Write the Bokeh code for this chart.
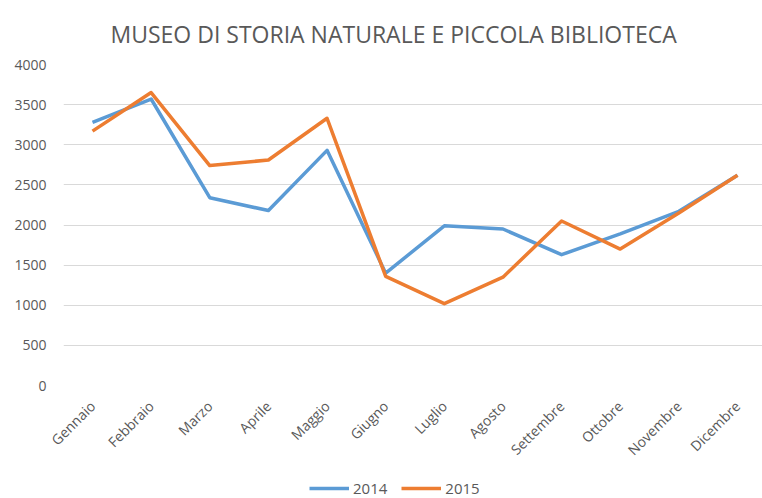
import math
from bokeh.plotting import figure
from bokeh.layouts import column
from bokeh.models import Range1d, FixedTicker, Legend, LegendItem
from bokeh.embed import file_html
from bokeh.resources import INLINE

months = ["Gennaio", "Febbraio", "Marzo", "Aprile", "Maggio", "Giugno",
          "Luglio", "Agosto", "Settembre", "Ottobre", "Novembre", "Dicembre"]
y2014 = [3280, 3570, 2340, 2180, 2930, 1400, 1990, 1950, 1630, 1890, 2170, 2620]
y2015 = [3170, 3650, 2740, 2810, 3330, 1360, 1020, 1350, 2050, 1700, 2150, 2620]
y_ticks = [0, 500, 1000, 1500, 2000, 2500, 3000, 3500, 4000]
series = [("2014", y2014, "#5B9BD5"), ("2015", y2015, "#ED7D31")]

FONT = "Open Sans"
GREY = "#595959"
W = 762

xs = list(range(len(months)))

# x range chosen so that category 0 sits at x=92 and category 11 at x=737
x0 = -29 / 58.64
x1 = 11 + (W - 737) / 58.64

p = figure(width=W, height=470, output_backend="svg", toolbar_location=None,
           x_range=Range1d(x0, x1), y_range=Range1d(0, 4000),
           min_border_left=63, min_border_right=0, min_border_top=64,
           min_border_bottom=85)
p.outline_line_color = None

p.title.text = "MUSEO DI STORIA NATURALE E PICCOLA BIBLIOTECA"
p.title.text_font = FONT
p.title.text_font_size = "23px"
p.title.text_font_style = "normal"
p.title.text_color = GREY
p.title.align = "left"
p.title.offset = 47
p.title.standoff = 30

for name, ys, col in series:
    p.line(xs, ys, line_color=col, line_width=3.5, line_join="round")

p.yaxis.ticker = FixedTicker(ticks=y_ticks)
p.yaxis.axis_line_color = None
p.yaxis.major_tick_line_color = None
p.yaxis.minor_tick_line_color = None
p.yaxis.major_label_text_font = FONT
p.yaxis.major_label_text_font_size = "14px"
p.yaxis.major_label_text_color = GREY
p.yaxis.major_label_standoff = 11

p.xaxis.ticker = FixedTicker(ticks=xs)
p.xaxis.major_label_overrides = {i: m for i, m in enumerate(months)}
p.xaxis.axis_line_color = None
p.xaxis.major_tick_line_color = None
p.xaxis.minor_tick_line_color = None
p.xaxis.major_label_orientation = math.pi / 4
p.xaxis.major_label_text_font = FONT
p.xaxis.major_label_text_font_size = "14px"
p.xaxis.major_label_text_color = GREY
p.xaxis.major_label_standoff = 12

p.xgrid.grid_line_color = None
p.ygrid.grid_line_color = "#d9d9d9"
p.ygrid.grid_line_width = 1

# legend strip below the chart (its lines lie outside the strip's ranges)
lg = figure(width=W, height=28, output_backend="svg", toolbar_location=None,
            x_range=Range1d(100, 101), y_range=Range1d(100000, 100001),
            x_axis_location=None, y_axis_location=None, min_border=0)
lg.outline_line_color = None
lg.grid.grid_line_color = None
items = []
for name, ys, col in series:
    r = lg.line(xs, ys, line_color=col, line_width=3.5)
    items.append(LegendItem(label=name, renderers=[r]))
legend = Legend(items=items, orientation="horizontal", location=(246, 0),
                border_line_color=None, background_fill_alpha=0,
                label_text_font=FONT, label_text_font_size="15px",
                label_text_color=GREY, glyph_width=40, glyph_height=14,
                label_height=14, spacing=14, label_standoff=4,
                padding=0, margin=0)
lg.add_layout(legend)

layout = column(p, lg, spacing=0)
open("out.html", "w").write(file_html(layout, INLINE))
